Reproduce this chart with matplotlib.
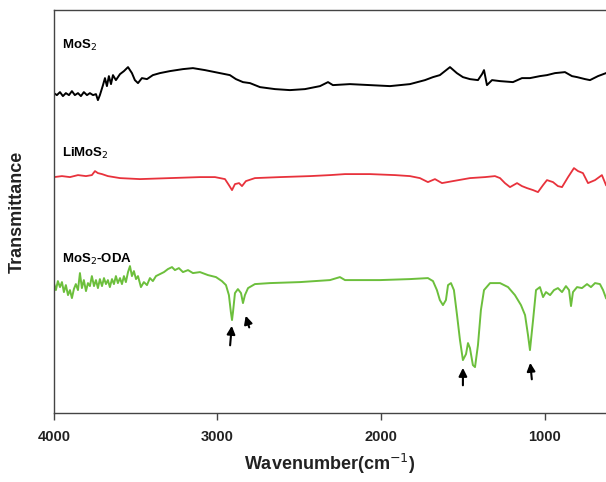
import numpy as np
import matplotlib.pyplot as plt

plt.rcParams['font.family'] = ['Liberation Sans', 'DejaVu Sans']

# wavenumber (cm-1) and transmittance (arbitrary units, traces offset)
w_mos2 = [4000, 3982, 3963, 3945, 3927, 3908, 3890, 3872, 3853, 3835, 3817, 3798, 3780,
          3761, 3743, 3731, 3719, 3700, 3688, 3676, 3664, 3651, 3639, 3621, 3596, 3572,
          3547, 3523, 3505, 3486, 3462, 3431, 3395, 3352, 3291, 3211, 3150, 3076, 2985,
          2924, 2887, 2844, 2801, 2740, 2648, 2557, 2465, 2373, 2324, 2294, 2190, 2067,
          1945, 1823, 1731, 1682, 1640, 1578, 1536, 1499, 1456, 1407, 1382, 1370, 1352,
          1321, 1272, 1193, 1138, 1089, 1028, 985, 936, 875, 832, 801, 752, 722, 673, 624]
t_mos2 = [320, 318, 321, 317, 320, 318, 322, 318, 320, 317, 321, 318, 320,
          318, 319, 313, 318, 328, 335, 327, 337, 329, 338, 333, 339, 342,
          346, 340, 333, 330, 335, 334, 338, 340, 342, 344, 345, 343, 340,
          338, 334, 331, 330, 326, 324, 323, 324, 327, 331, 328, 329, 328,
          327, 329, 333, 336, 338, 346, 340, 336, 334, 333, 339, 343, 328,
          333, 332, 331, 335, 335, 337, 338, 340, 341, 337, 336, 334, 333, 337, 340]

w_limos2 = [4000, 3951, 3902, 3853, 3804, 3768, 3749, 3731, 3706, 3670, 3596, 3474, 3291,
            3107, 3015, 2954, 2930, 2911, 2893, 2868, 2850, 2826, 2771, 2618, 2434, 2312,
            2220, 2067, 1914, 1823, 1762, 1713, 1670, 1627, 1560, 1456, 1364, 1303, 1272,
            1242, 1211, 1168, 1138, 1107, 1070, 1040, 1009, 985, 948, 918, 893, 856,
            820, 795, 765, 734, 691, 649, 624]
t_limos2 = [236, 237, 236, 238, 237, 238, 242, 240, 239, 237, 235, 234, 235,
            236, 236, 234, 228, 223, 229, 230, 227, 232, 235, 236, 237, 238,
            239, 239, 238, 237, 235, 231, 234, 230, 232, 235, 236, 237, 235,
            230, 226, 230, 227, 225, 223, 221, 228, 233, 231, 227, 226, 236,
            245, 242, 240, 230, 233, 238, 228]

w_oda = [4000, 3988, 3976, 3963, 3951, 3939, 3927, 3914, 3902, 3890, 3878, 3866, 3853,
         3841, 3829, 3817, 3804, 3792, 3780, 3768, 3755, 3743, 3731, 3719, 3706, 3694,
         3682, 3670, 3658, 3645, 3633, 3621, 3609, 3596, 3584, 3572, 3560, 3547, 3535,
         3523, 3511, 3498, 3486, 3468, 3450, 3431, 3413, 3395, 3376, 3352, 3327, 3303,
         3278, 3260, 3236, 3211, 3180, 3150, 3107, 3058, 3009, 2973, 2948, 2930, 2918,
         2911, 2905, 2893, 2875, 2856, 2844, 2832, 2813, 2771, 2679, 2495, 2312, 2251,
         2220, 2006, 1823, 1713, 1682, 1658, 1640, 1621, 1603, 1590, 1572, 1554, 1535,
         1517, 1499, 1480, 1468, 1456, 1438, 1425, 1407, 1389, 1370, 1333, 1272, 1223,
         1181, 1144, 1119, 1101, 1089, 1070, 1052, 1028, 1009, 991, 966, 942, 918,
         893, 869, 850, 838, 826, 801, 771, 740, 716, 691, 661, 642, 624]
t_oda = [130, 123, 132, 126, 131, 121, 128, 118, 123, 115, 124, 129, 123,
         140, 125, 133, 122, 130, 127, 137, 127, 133, 125, 134, 127, 135,
         129, 133, 126, 134, 129, 137, 130, 135, 129, 137, 131, 141, 147,
         137, 142, 134, 137, 126, 131, 128, 135, 132, 137, 139, 141, 144,
         146, 143, 145, 141, 143, 140, 141, 138, 136, 132, 128, 118, 101,
         93, 101, 120, 124, 120, 110, 118, 125, 129, 130, 131, 133, 136,
         133, 133, 134, 135, 132, 123, 113, 108, 113, 128, 130, 123, 98,
         73, 53, 59, 70, 65, 48, 46, 68, 103, 123, 130, 130, 126,
         118, 108, 98, 78, 63, 93, 123, 126, 116, 121, 118, 123, 125,
         121, 127, 123, 107, 121, 126, 125, 129, 126, 130, 129, 123, 115]

fig = plt.figure(figsize=(6.06, 4.82), dpi=100)
ax = fig.add_axes([0.089, 0.143, 0.911, 0.836])

ax.plot(w_mos2, t_mos2, color='black', lw=1.4)
ax.plot(w_limos2, t_limos2, color='#e8323c', lw=1.3)
ax.plot(w_oda, t_oda, color='#6cbf3c', lw=1.4)

ax.text(3950, 364, 'MoS$_2$', fontsize=9.5, fontweight='bold')
ax.text(3950, 256, 'LiMoS$_2$', fontsize=9.5, fontweight='bold')
ax.text(3950, 150, 'MoS$_2$-ODA', fontsize=9.5, fontweight='bold')

# arrows marking ODA bands (tip x, tip y, tail x, tail y)
arrows = [(2911, 90, 2924, 65), (2832, 100, 2801, 83), (1499, 48, 1499, 25), (1089, 53, 1076, 31)]
for x_tip, y_tip, x_tail, y_tail in arrows:
    ax.annotate('', xy=(x_tip, y_tip), xytext=(x_tail, y_tail),
                arrowprops=dict(arrowstyle='-|>', color='black', lw=1.5, mutation_scale=12))

ax.set_xlim(4000, 624)
ax.set_ylim(0, 403)
ax.set_xticks([4000, 3000, 2000, 1000])
ax.set_yticks([])
ax.tick_params(axis='x', direction='out', length=5, width=1, labelsize=10.5, pad=7, colors='#444444')
for lab in ax.get_xticklabels():
    lab.set_fontweight('bold')
    lab.set_color('#222222')
ax.spines['right'].set_visible(False)
for s in ['top', 'left', 'bottom']:
    ax.spines[s].set_color('#444444')
    ax.spines[s].set_linewidth(1.0)

ax.set_xlabel('Wavenumber(cm$^{-1}$)', fontsize=13, fontweight='bold', labelpad=6, color='#222222')
ax.set_ylabel('Transmittance', fontsize=13, fontweight='bold', labelpad=20, color='#222222')

fig.savefig('out.png', dpi=100)
